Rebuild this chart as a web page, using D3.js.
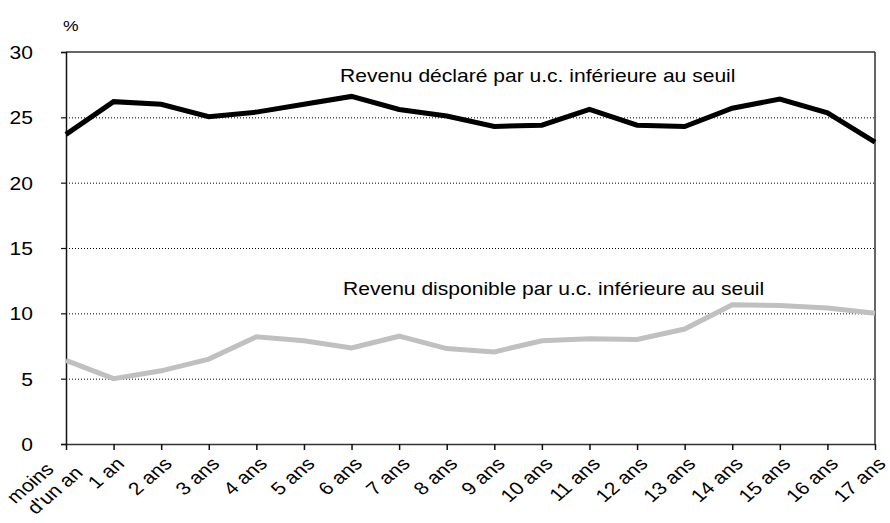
<!DOCTYPE html>
<html>
<head>
<meta charset="utf-8">
<script src="https://cdn.jsdelivr.net/npm/d3@7"></script>
<style>
  body { margin: 0; background: #fff; }
  text { font-family: "Liberation Sans", Arial, Helvetica, sans-serif; fill: #000; }
</style>
</head>
<body>
<div id="chart"></div>
<script>
// categories (age)
const categories = ["moins d'un an", "1 an", "2 ans", "3 ans", "4 ans", "5 ans", "6 ans", "7 ans", "8 ans",
  "9 ans", "10 ans", "11 ans", "12 ans", "13 ans", "14 ans", "15 ans", "16 ans", "17 ans"];

// revenu déclaré par u.c. inférieur au seuil
const declare = [23.7, 26.2, 26.0, 25.05, 25.4, 26.0, 26.6, 25.6, 25.1, 24.3, 24.4, 25.6, 24.4, 24.3, 25.7, 26.4, 25.35, 23.1];
// revenu disponible par u.c. inférieur au seuil
const disponible = [6.4, 5.0, 5.6, 6.5, 8.2, 7.9, 7.35, 8.25, 7.3, 7.05, 7.9, 8.05, 8.0, 8.8, 10.65, 10.6, 10.4, 10.0];

const yTicks = [0, 5, 10, 15, 20, 25, 30];
const gridTicks = [5, 10, 15, 20, 25];

const W = 890, H = 523;
const margin = { left: 66, right: 15, top: 52, bottom: 79 };
const sx = 1.17; // le texte de l'original est un peu étiré en largeur

let svg = d3.select("#chart").append("svg")
  .attr("width", W)
  .attr("height", H);

let xScale = d3.scalePoint()
  .domain(categories)
  .range([margin.left, W - margin.right]);

let yScale = d3.scaleLinear()
  .domain([0, 30])
  .range([H - margin.bottom, margin.top]);

// grille pointillée
svg.selectAll("line.grid")
  .data(gridTicks)
  .enter()
  .append("line")
  .attr("class", "grid")
  .attr("x1", margin.left)
  .attr("x2", W - margin.right)
  .attr("y1", d => yScale(d) + 0.5)
  .attr("y2", d => yScale(d) + 0.5)
  .attr("stroke", "#000")
  .attr("stroke-width", 1)
  .attr("stroke-dasharray", "1,2");

// cadre haut et droit
svg.append("line")
  .attr("x1", margin.left).attr("x2", W - margin.right)
  .attr("y1", yScale(30)).attr("y2", yScale(30))
  .attr("stroke", "#333").attr("stroke-width", 1.5);
svg.append("line")
  .attr("x1", W - margin.right).attr("x2", W - margin.right)
  .attr("y1", yScale(30)).attr("y2", yScale(0))
  .attr("stroke", "#333").attr("stroke-width", 1.5);

// axe y
let yAxis = svg.append("g")
  .attr("transform", "translate(" + margin.left + ",0)")
  .call(d3.axisLeft(yScale).tickValues(yTicks).tickSize(5).tickFormat(d3.format("d")));
yAxis.select(".domain").attr("stroke", "#111").attr("stroke-width", 1.5);
yAxis.selectAll(".tick line").attr("stroke", "#111").attr("stroke-width", 1.2);
yAxis.selectAll(".tick text")
  .attr("text-anchor", "end")
  .attr("x", 0)
  .attr("dy", "0.36em")
  .attr("transform", "translate(-33,0) scale(" + sx + ",1)")
  .style("font-size", "18px");

// axe x
let xAxis = svg.append("g")
  .attr("transform", "translate(0," + yScale(0) + ")")
  .call(d3.axisBottom(xScale).tickSize(6).tickSizeOuter(0).tickFormat(""));
xAxis.select(".domain").attr("stroke", "#333").attr("stroke-width", 1.5);
xAxis.selectAll(".tick line").attr("stroke", "#111").attr("stroke-width", 1.5);

// étiquettes inclinées (étirées comme l'original)
let xLabels = svg.append("g");
categories.forEach((c, i) => {
  let x = xScale(c);
  let y0 = yScale(0);
  if (i === 0) {
    let lab = xLabels.append("text")
      .attr("transform", "translate(" + (x + 18) + "," + (y0 + 30) + ") scale(" + sx + ",1) rotate(-45)")
      .attr("text-anchor", "end")
      .style("font-size", "18px");
    lab.append("tspan").attr("x", -15).attr("y", -20).text("moins");
    lab.append("tspan").attr("x", 0).attr("y", 0).text("d'un an");
  } else {
    xLabels.append("text")
      .attr("transform", "translate(" + (x + 12) + "," + (y0 + 21) + ") scale(" + sx + ",1) rotate(-45)")
      .attr("text-anchor", "end")
      .style("font-size", "18px")
      .text(c);
  }
});

// courbes
let lineGenerator = d3.line()
  .x((d, i) => xScale(categories[i]))
  .y(d => yScale(d));

svg.append("path")
  .datum(disponible)
  .attr("fill", "none")
  .attr("stroke", "#c0c0c0")
  .attr("stroke-width", 5)
  .attr("d", lineGenerator);

svg.append("path")
  .datum(declare)
  .attr("fill", "none")
  .attr("stroke", "#000")
  .attr("stroke-width", 5)
  .attr("d", lineGenerator);

// libellés des séries
svg.append("text")
  .attr("transform", "translate(340,82) scale(" + sx + ",1)")
  .style("font-size", "18px")
  .text("Revenu déclaré par u.c. inférieure au seuil");

svg.append("text")
  .attr("transform", "translate(343,295) scale(" + sx + ",1)")
  .style("font-size", "18px")
  .text("Revenu disponible par u.c. inférieure au seuil");

// unité
svg.append("text")
  .attr("transform", "translate(63,31) scale(" + sx + ",1)")
  .style("font-size", "15px")
  .text("%");
</script>
</body>
</html>
